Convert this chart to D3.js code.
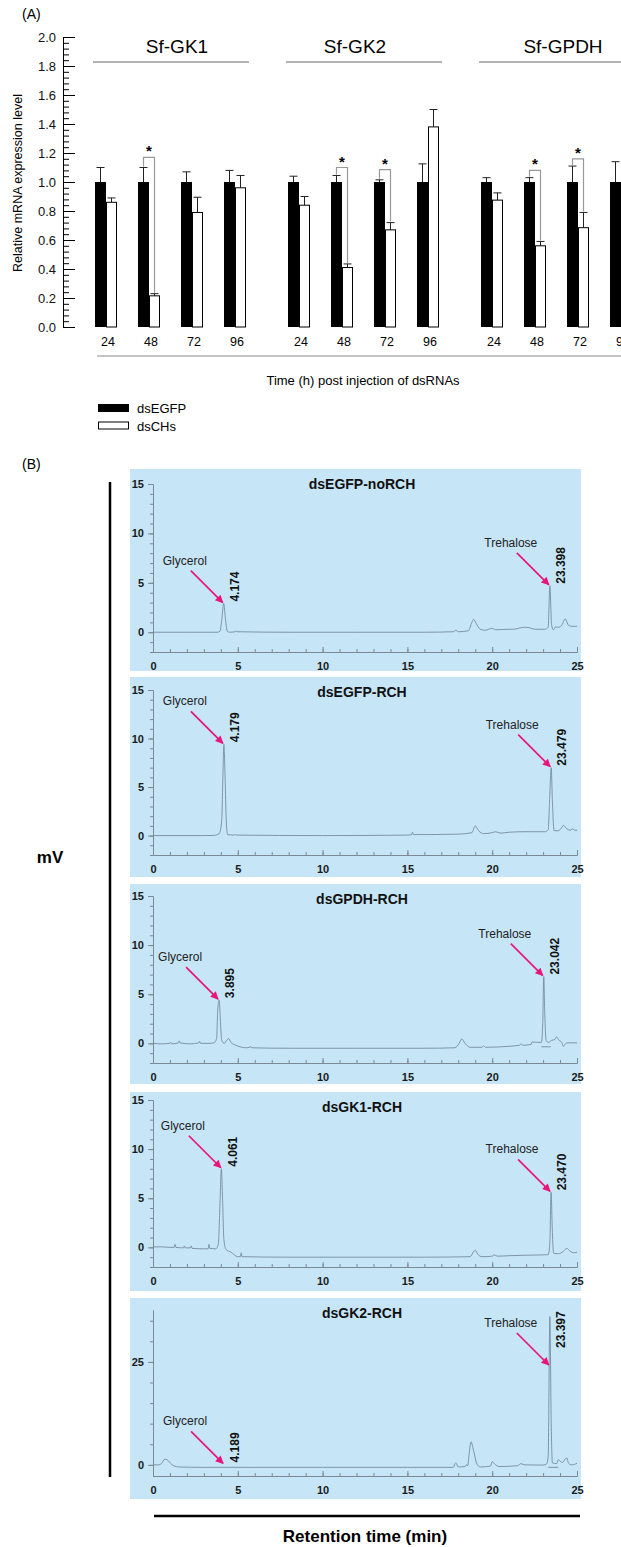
<!DOCTYPE html>
<html>
<head>
<meta charset="utf-8">
<script src="https://cdn.jsdelivr.net/npm/d3@7"></script>
<style>
  body { margin: 0; background: #fff; }
  svg { display: block; font-family: 'Liberation Sans', Arial, sans-serif; }
</style>
</head>
<body>
<svg id="chart" width="621" height="1547"></svg>
<script>
/* global d3 */

// ---------- Panel A data ----------
const genes = ['Sf-GK1', 'Sf-GK2', 'Sf-GPDH'];
const times = ['24', '48', '72', '96'];
const series = ['dsEGFP', 'dsCHs'];
const egfpMean = [[1, 1, 1, 1], [1, 1, 1, 1], [1, 1, 1, 1]];
const egfpSE = [[0.10, 0.10, 0.07, 0.08], [0.04, 0.045, 0.015, 0.125], [0.03, 0.03, 0.11, 0.14]];
const chsMean = [[0.86, 0.215, 0.79, 0.96], [0.84, 0.41, 0.67, 1.38], [0.875, 0.56, 0.685, 1.57]];
const chsSE = [[0.03, 0.015, 0.105, 0.085], [0.06, 0.025, 0.05, 0.12], [0.05, 0.03, 0.105, 0.2]];
const sigGene = ['Sf-GK1', 'Sf-GK2', 'Sf-GK2', 'Sf-GPDH', 'Sf-GPDH'];
const sigTime = ['48', '48', '72', '48', '72'];
const sigTop = [1.17, 1.10, 1.085, 1.08, 1.16];
const yTicksA = [0, 0.2, 0.4, 0.6, 0.8, 1.0, 1.2, 1.4, 1.6, 1.8, 2.0];

// ---------- Panel B data ----------
const chromTitles = ['dsEGFP-noRCH', 'dsEGFP-RCH', 'dsGPDH-RCH', 'dsGK1-RCH', 'dsGK2-RCH'];
const glycerolRt = [4.174, 4.179, 3.895, 4.061, 4.189];
const glycerolTip = [2.9, 9.4, 4.4, 8.0, 0.1];
const trehaloseRt = [23.398, 23.479, 23.042, 23.470, 23.397];
const trehaloseTip = [4.7, 7.0, 6.8, 5.6, 24];
const yDomains = [[-2, 15], [-2, 15], [-2, 15], [-2, 15], [-2.7, 37.6]];
const yTickLabels = [[0, 5, 10, 15], [0, 5, 10, 15], [0, 5, 10, 15], [0, 5, 10, 15], [0, 25]];
const yMinorTicks = [
  [-2, -1, 0, 1, 2, 3, 4, 5, 6, 7, 8, 9, 10, 11, 12, 13, 14, 15],
  [-2, -1, 0, 1, 2, 3, 4, 5, 6, 7, 8, 9, 10, 11, 12, 13, 14, 15],
  [-2, -1, 0, 1, 2, 3, 4, 5, 6, 7, 8, 9, 10, 11, 12, 13, 14, 15],
  [-2, -1, 0, 1, 2, 3, 4, 5, 6, 7, 8, 9, 10, 11, 12, 13, 14, 15],
  [0, 5, 10, 15, 20, 25, 30, 35],
];
const xTickLabels = [0, 5, 10, 15, 20, 25];
const xMinorTicks = [0, 1, 2, 3, 4, 5, 6, 7, 8, 9, 10, 11, 12, 13, 14, 15, 16, 17, 18, 19, 20, 21, 22, 23, 24, 25];

// chromatogram traces, [retention time (min), signal (mV)]
const trace1 = [[0, 0], [2, 0], [3.8, 0], [3.95, 0.1], [4.05, 1.2], [4.17, 2.9], [4.28, 1.2], [4.38, 0.1],
  [4.5, 0], [4.85, 0.05], [4.9, 0.15], [4.95, 0.05], [8, 0], [12, 0], [16, 0], [17.7, 0.05], [17.85, 0.2],
  [18.0, 0.05], [18.6, 0.15], [18.8, 1.0], [18.9, 1.3], [19.05, 0.9], [19.3, 0.3], [19.6, 0.2], [20.0, 0.4],
  [20.2, 0.25], [21.0, 0.3], [21.2, 0.3], [21.9, 0.5], [22.2, 0.45], [22.5, 0.3], [23.1, 0.3], [23.3, 0.5],
  [23.4, 4.7], [23.5, 0.8], [23.6, 0.25], [23.75, 0.55], [23.9, 0.5], [24.1, 0.7], [24.3, 1.35], [24.5, 0.7],
  [24.7, 0.6], [25, 0.6]];
const trace2 = [[0, 0], [3, 0], [3.6, 0.02], [3.9, 0.2], [4.05, 1.5], [4.12, 6], [4.18, 9.4], [4.25, 6],
  [4.32, 1.5], [4.4, 0.1], [4.8, 0.05], [4.85, 0.15], [4.9, 0.05], [10, 0], [15, 0.05], [15.25, 0.1],
  [15.3, 0.35], [15.35, 0.1], [18, 0.15], [18.8, 0.3], [19.0, 1.0], [19.2, 0.5], [19.5, 0.2], [20.0, 0.3],
  [20.2, 0.4], [20.5, 0.25], [21, 0.35], [22, 0.4], [23.1, 0.4], [23.3, 0.6], [23.38, 3.5], [23.48, 7.0],
  [23.55, 3.5], [23.65, 0.5], [23.9, 0.5], [24.05, 0.7], [24.2, 1.05], [24.4, 0.7], [24.6, 0.55],
  [24.75, 0.7], [24.85, 0.55], [25, 0.55]];
const trace3 = [[0, 0], [0.5, -0.05], [1.0, 0], [1.05, 0.1], [1.1, -0.05], [1.5, 0.05], [1.55, 0.25],
  [1.6, 0.05], [2.2, -0.05], [2.7, 0.05], [2.75, 0.2], [2.8, 0.0], [3.3, 0.0], [3.6, 0.05], [3.75, 0.5],
  [3.82, 3.5], [3.9, 4.4], [3.97, 2.5], [4.05, 0.3], [4.2, 0.0], [4.35, 0.3], [4.45, 0.5], [4.6, 0.1],
  [4.9, -0.2], [5.5, -0.45], [5.7, -0.4], [5.75, -0.3], [5.8, -0.45], [8, -0.5], [12, -0.5], [16, -0.5],
  [17.8, -0.45], [18.05, 0.0], [18.2, 0.45], [18.4, 0.0], [18.7, -0.4], [19.4, -0.4], [19.5, -0.25],
  [19.6, -0.4], [21, -0.3], [21.6, -0.2], [21.7, -0.05], [21.8, -0.2], [22.3, -0.1], [22.35, 0.15],
  [22.6, 0.1], [22.9, 0.1], [22.98, 2.0], [23.04, 6.8], [23.1, 3.0], [23.18, 0.3], [23.3, 0.1], [23.5, 0.3],
  [23.7, 0.4], [23.8, 0.65], [23.95, 0.3], [24.1, 0.1], [24.2, -0.3], [24.3, -0.1], [24.4, 0.05], [25, 0.05]];
const trace4 = [[0, 0.05], [0.5, 0.05], [1.0, 0], [1.25, 0.0], [1.3, 0.3], [1.35, 0.0], [1.8, -0.05],
  [1.85, 0.15], [1.9, -0.05], [2.2, -0.05], [2.25, 0.15], [2.3, -0.1], [3.0, -0.15], [3.25, -0.15],
  [3.3, 0.3], [3.35, -0.1], [3.7, -0.15], [3.85, 0.3], [3.95, 4.5], [4.03, 8.0], [4.1, 5.0], [4.18, 0.8],
  [4.3, -0.2], [4.6, -0.5], [5.0, -0.95], [5.15, -0.95], [5.2, -0.55], [5.25, -0.95], [8, -1.0], [12, -1.0],
  [16, -1.0], [18.7, -0.95], [18.9, -0.45], [19.0, -0.3], [19.15, -0.7], [19.4, -0.95], [20.0, -0.9],
  [20.1, -0.75], [20.3, -0.9], [21, -0.85], [22, -0.8], [23.3, -0.75], [23.4, 0.5], [23.47, 5.6],
  [23.55, 1.5], [23.62, -0.6], [23.9, -0.65], [24.2, -0.4], [24.4, -0.1], [24.6, -0.4], [24.8, -0.55],
  [25, -0.5]];
const trace5 = [[0, 0], [0.3, 0], [0.5, 0.3], [0.7, 1.4], [0.85, 1.2], [1.1, 0.1], [1.5, -0.5], [3, -0.6],
  [6, -0.6], [10, -0.6], [15, -0.6], [17.7, -0.6], [17.85, 0.5], [18.0, -0.5], [18.4, -0.4], [18.5, 0.1],
  [18.55, -0.2], [18.65, 3.0], [18.75, 5.6], [18.9, 3.5], [19.1, 0.2], [19.3, -0.5], [19.9, -0.3],
  [20.0, 0.8], [20.15, 0.2], [20.4, -0.4], [21.5, -0.2], [21.7, 0.3], [21.9, 0.0], [23.0, -0.05],
  [23.2, 0.2], [23.3, 2], [23.4, 36], [23.48, 10], [23.55, 0.5], [23.8, 0.3], [23.9, 1.3], [24.0, 0.9],
  [24.15, 0.6], [24.3, 1.4], [24.4, 1.7], [24.5, 0.4], [24.7, 0.0], [24.9, 0.2], [25, 0.4]];
const traces = [trace1, trace2, trace3, trace4, trace5];
const baseSegs = [null, null, [[22.9, -0.35], [23.45, -0.35]], null, [[23.3, -0.6], [23.9, -0.6]]];

// ---------- layout ----------
const svg = d3.select('#chart');
const black = '#000';
const pink = '#e8157b';
const panelFill = '#c6e5f7';
const traceColor = '#71869a';
const axisGrey = '#7d8a96';

// ================= Panel A =================
svg.append('text').attr('x', 22).attr('y', 19).attr('font-size', '14px').text('(A)');

const yA = d3.scaleLinear().domain([0, 2]).range([327, 37]);
const xGene = d3.scaleBand().domain(genes).range([95, 632]).paddingInner(42 / 193);
const xTime = d3.scaleBand().domain(times).range([0, 151]).paddingInner(21 / 43);
const xSer = d3.scaleBand().domain(series).range([0, xTime.bandwidth()]);

// y axis with ticks pointing into the plot
const yMinorA = d3.range(0, 51).map((k) => k * 0.04);
svg.append('g').attr('transform', 'translate(63,0)')
  .call(d3.axisRight(yA).tickValues(yMinorA).tickSize(6).tickSizeOuter(0).tickFormat(''))
  .call((g) => g.selectAll('line,path').attr('stroke', black));
svg.append('g').attr('transform', 'translate(63,0)')
  .call(d3.axisRight(yA).tickValues(yTicksA).tickSize(12).tickSizeOuter(0).tickFormat(''))
  .call((g) => g.selectAll('line,path').attr('stroke', black));
svg.append('g').attr('transform', 'translate(63,0)')
  .call(d3.axisLeft(yA).tickValues(yTicksA).tickSize(0).tickPadding(7).tickFormat(d3.format('.1f')))
  .call((g) => g.select('.domain').remove())
  .call((g) => g.selectAll('text').attr('font-size', '13px').attr('font-family', 'Liberation Sans, Arial, sans-serif').attr('fill', '#111'));

svg.append('text')
  .attr('transform', 'rotate(-90)')
  .attr('x', -183).attr('y', 18)
  .attr('text-anchor', 'middle').attr('dominant-baseline', 'central')
  .attr('font-size', '12.5px')
  .text('Relative mRNA expression level');

// group titles and lines
genes.forEach((gName) => {
  const x0 = xGene(gName) - 2;
  const x1 = xGene(gName) + xGene.bandwidth() + 3;
  svg.append('line').attr('x1', x0).attr('x2', x1).attr('y1', 62).attr('y2', 62)
    .attr('stroke', '#9a9a9a').attr('stroke-width', 1.5);
  svg.append('text').attr('x', (x0 + x1) / 2 + (gName === 'Sf-GK2' ? -9 : 6)).attr('y', 53)
    .attr('text-anchor', 'middle').attr('font-size', '19px').text(gName);
});

// bars
const barRows = [];
genes.forEach((gName, gi) => {
  times.forEach((t, ti) => {
    barRows.push({ gene: gName, time: t, ser: 'dsEGFP', mean: egfpMean[gi][ti], se: egfpSE[gi][ti] });
    barRows.push({ gene: gName, time: t, ser: 'dsCHs', mean: chsMean[gi][ti], se: chsSE[gi][ti] });
  });
});
const barX = (d) => xGene(d.gene) + xTime(d.time) + xSer(d.ser);
const bw = xSer.bandwidth();

const gBars = svg.append('g');
// error bars (upward only)
gBars.selectAll('.err').data(barRows).enter().append('path')
  .attr('class', 'err')
  .attr('d', (d) => {
    const cx = barX(d) + bw / 2;
    const y0 = yA(d.mean);
    const y1 = yA(d.mean + d.se);
    return `M${cx},${y0}V${y1}M${cx - 4},${y1}H${cx + 4}`;
  })
  .attr('stroke', '#222').attr('stroke-width', 1).attr('fill', 'none');
gBars.selectAll('.bar').data(barRows).enter().append('rect')
  .attr('class', 'bar')
  .attr('x', (d) => barX(d) + (d.ser === 'dsCHs' ? 0.5 : 0))
  .attr('y', (d) => yA(d.mean))
  .attr('width', (d) => (d.ser === 'dsCHs' ? bw - 1 : bw))
  .attr('height', (d) => yA(0) - yA(d.mean))
  .attr('fill', (d) => (d.ser === 'dsEGFP' ? black : '#fff'))
  .attr('stroke', black)
  .attr('stroke-width', (d) => (d.ser === 'dsEGFP' ? 0 : 1));

// significance brackets
sigTop.forEach((top, k) => {
  const gi = genes.indexOf(sigGene[k]);
  const ti = times.indexOf(sigTime[k]);
  const xl = xGene(sigGene[k]) + xTime(sigTime[k]) + xSer('dsEGFP') + bw / 2;
  const xr = xGene(sigGene[k]) + xTime(sigTime[k]) + xSer('dsCHs') + bw / 2;
  const yl = yA(egfpMean[gi][ti] + egfpSE[gi][ti]);
  const yr = yA(chsMean[gi][ti] + chsSE[gi][ti]);
  const yt = yA(top);
  svg.append('path')
    .attr('d', `M${xl},${yl - 1}V${yt}H${xr}V${yr - 1}`)
    .attr('fill', 'none').attr('stroke', '#999').attr('stroke-width', 1.2);
  svg.append('text').attr('x', (xl + xr) / 2).attr('y', yt - 1)
    .attr('text-anchor', 'middle').attr('font-size', '15px').attr('font-weight', 'bold')
    .text('*');
});

// category labels and bottom line
barRows.filter((d) => d.ser === 'dsEGFP').forEach((d) => {
  svg.append('text')
    .attr('x', xGene(d.gene) + xTime(d.time) + xTime.bandwidth() / 2 + 2)
    .attr('y', 346)
    .attr('text-anchor', 'middle').attr('font-size', '12.5px').text(d.time);
});
svg.append('line').attr('x1', 97).attr('x2', 640).attr('y1', 356).attr('y2', 356)
  .attr('stroke', '#8a8a8a').attr('stroke-width', 1.2);
svg.append('text').attr('x', 363).attr('y', 385).attr('text-anchor', 'middle')
  .attr('font-size', '13px').text('Time (h) post injection of dsRNAs');

// legend
series.forEach((s, i) => {
  svg.append('rect').attr('x', 98.5).attr('y', 404.5 + i * 17.5).attr('width', 30).attr('height', 7)
    .attr('fill', i === 0 ? black : '#fff').attr('stroke', black).attr('stroke-width', 1);
  svg.append('text').attr('x', 137).attr('y', 408 + i * 18).attr('dominant-baseline', 'central')
    .attr('font-size', '13px').text(s);
});

// ================= Panel B =================
svg.append('text').attr('x', 22).attr('y', 469).attr('font-size', '14px').text('(B)');
svg.append('line').attr('x1', 110).attr('x2', 110).attr('y1', 482).attr('y2', 1477)
  .attr('stroke', black).attr('stroke-width', 2.5);
svg.append('text').attr('x', 50).attr('y', 857).attr('text-anchor', 'middle')
  .attr('dominant-baseline', 'central').attr('font-size', '17px').attr('font-weight', 'bold').text('mV');

const panelTop = [469, 677, 884, 1092, 1298];
const panelH = [202, 200, 200, 199, 201];
const axisTopY = [484, 690, 896, 1100, 1310];
const axisBottomY = [652, 855, 1063, 1267, 1476];

const xB = d3.scaleLinear().domain([0, 25]).range([153, 577]);

const defs = svg.append('defs');
defs.append('marker')
  .attr('id', 'arrowhead')
  .attr('viewBox', '0 0 10 10')
  .attr('refX', 9).attr('refY', 5)
  .attr('markerWidth', 11).attr('markerHeight', 8)
  .attr('markerUnits', 'userSpaceOnUse')
  .attr('orient', 'auto')
  .append('path').attr('d', 'M0,0L10,5L0,10z').attr('fill', pink);

const styleAxis = (g) => {
  g.selectAll('line,path').attr('stroke', axisGrey).attr('stroke-width', 1);
  g.selectAll('text').attr('font-size', '11px').attr('font-weight', 'bold')
    .attr('font-family', 'Liberation Sans, Arial, sans-serif').attr('fill', '#1a1a1a');
};

chromTitles.forEach((title, i) => {
  const yB = d3.scaleLinear().domain(yDomains[i]).range([axisBottomY[i], axisTopY[i]]);
  const g = svg.append('g');

  g.append('rect').attr('x', 130).attr('y', panelTop[i]).attr('width', 451).attr('height', panelH[i])
    .attr('fill', panelFill);

  // y axis
  g.append('g').attr('transform', `translate(${xB(0)},0)`)
    .call(d3.axisLeft(yB).tickValues(yMinorTicks[i]).tickSize(3).tickSizeOuter(0).tickFormat(''))
    .call(styleAxis);
  g.append('g').attr('transform', `translate(${xB(0)},0)`)
    .call(d3.axisLeft(yB).tickValues(yTickLabels[i]).tickSize(5).tickSizeOuter(0).tickPadding(4))
    .call(styleAxis);

  // x axis, ticks pointing up
  g.append('g').attr('transform', `translate(0,${axisBottomY[i]})`)
    .call(d3.axisTop(xB).tickValues(xMinorTicks).tickSize(3).tickSizeOuter(0).tickFormat(''))
    .call(styleAxis);
  g.append('g').attr('transform', `translate(0,${axisBottomY[i]})`)
    .call(d3.axisTop(xB).tickValues(xTickLabels).tickSize(5).tickSizeOuter(0).tickFormat(''))
    .call(styleAxis);
  g.append('g').attr('transform', `translate(0,${axisBottomY[i]})`)
    .call(d3.axisBottom(xB).tickValues(xTickLabels).tickSize(0).tickPadding(10))
    .call((a) => a.select('.domain').remove())
    .call(styleAxis);

  // title
  g.append('text').attr('x', (xB(0) + xB(25)) / 2 - 3).attr('y', panelTop[i] + 15)
    .attr('text-anchor', 'middle').attr('dominant-baseline', 'central')
    .attr('font-size', '14px').attr('font-weight', 'bold').attr('fill', '#111')
    .text(title);

  // trace
  const line = d3.line().x((d) => xB(d[0])).y((d) => yB(d[1])).curve(d3.curveMonotoneX);
  g.append('path').datum(traces[i]).attr('d', line)
    .attr('fill', 'none').attr('stroke', traceColor).attr('stroke-width', 0.85);
  if (baseSegs[i]) {
    g.append('path').datum(baseSegs[i]).attr('d', d3.line().x((d) => xB(d[0])).y((d) => yB(d[1])))
      .attr('fill', 'none').attr('stroke', traceColor).attr('stroke-width', 0.85);
  }

  // peak annotations
  const peaks = [
    { name: 'Glycerol', rt: glycerolRt[i], tip: glycerolTip[i] },
    { name: 'Trehalose', rt: trehaloseRt[i], tip: trehaloseTip[i] },
  ];
  peaks.forEach((p) => {
    const tx = xB(p.rt);
    const ty = yB(p.tip);
    g.append('line').attr('x1', tx - 33).attr('y1', ty - 33).attr('x2', tx - 1).attr('y2', ty - 1)
      .attr('stroke', pink).attr('stroke-width', 1.7).attr('marker-end', 'url(#arrowhead)');
    g.append('text').attr('x', tx - 39).attr('y', ty - 39)
      .attr('text-anchor', 'middle').attr('font-size', '12px')
      .attr('font-family', 'Liberation Sans Narrow, Liberation Sans, Arial, sans-serif')
      .attr('fill', '#222').text(p.name);
    const near = traces[i].filter((d) => Math.abs(d[0] - p.rt) < 0.2);
    const apex = Math.max(p.tip, d3.max(near, (d) => d[1]) ?? p.tip);
    const labelY = Math.max(yB(apex), axisTopY[i] + 40) - 2;
    g.append('text')
      .attr('transform', `translate(${tx + 11},${labelY}) rotate(-90)`)
      .attr('dominant-baseline', 'central')
      .attr('font-size', '12px').attr('font-weight', 'bold').attr('fill', '#111')
      .text(p.rt.toFixed(3));
  });
});

// bottom axis caption
svg.append('line').attr('x1', 154).attr('x2', 580).attr('y1', 1516).attr('y2', 1516)
  .attr('stroke', black).attr('stroke-width', 2.5);
svg.append('text').attr('x', 365).attr('y', 1536).attr('text-anchor', 'middle')
  .attr('dominant-baseline', 'central').attr('font-size', '17px').attr('font-weight', 'bold')
  .text('Retention time (min)');
</script>
</body>
</html>
